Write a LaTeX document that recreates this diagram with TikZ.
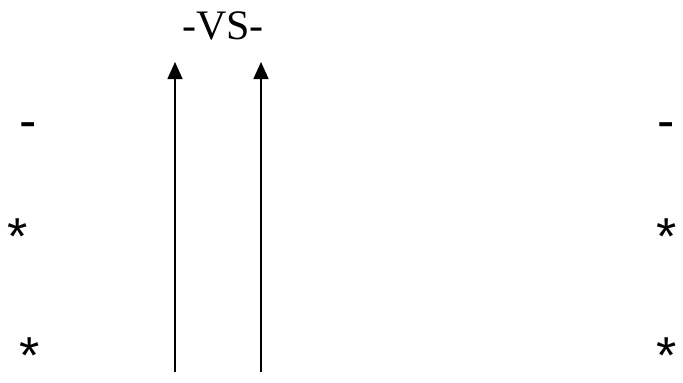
\documentclass[tikz,border=0pt]{standalone}
\usepackage{tikz}
\usepackage{fontspec}
\usetikzlibrary{arrows.meta}
\newfontfamily\arialfont{Liberation Sans}
\newfontfamily\timesfont{Liberation Serif}

\begin{document}
\begin{tikzpicture}[x=1pt, y=-1pt,
    mark label/.style={font=\arialfont\fontsize{52}{52}\selectfont, anchor=base, inner sep=0pt},
    up arrow/.style={line width=1.5pt, -{Triangle[length=17pt,width=15pt]}}]
    \useasboundingbox (0,0) rectangle (683,383);
    \node[font=\timesfont\fontsize{42}{42}\selectfont, anchor=base, inner sep=0pt] (title) at (223,39) {-VS-};
    % left column
    \node[mark label] (ldash) at (28,138) {-};
    \node[mark label] (lstarA) at (18,254) {*};
    \node[mark label] (lstarB) at (30,373) {*};
    % right column
    \node[mark label] (rdash) at (666,138) {-};
    \node[mark label] (rstarA) at (667,254) {*};
    \node[mark label] (rstarB) at (667,373) {*};
    % the two arrows
    \coordinate (footA) at (175,372);
    \coordinate (tipA) at (175,62);
    \coordinate (footB) at (261,372);
    \coordinate (tipB) at (261,62);
    \draw[up arrow] (footA) -- (tipA);
    \draw[up arrow] (footB) -- (tipB);
  \end{tikzpicture}
\end{document}
